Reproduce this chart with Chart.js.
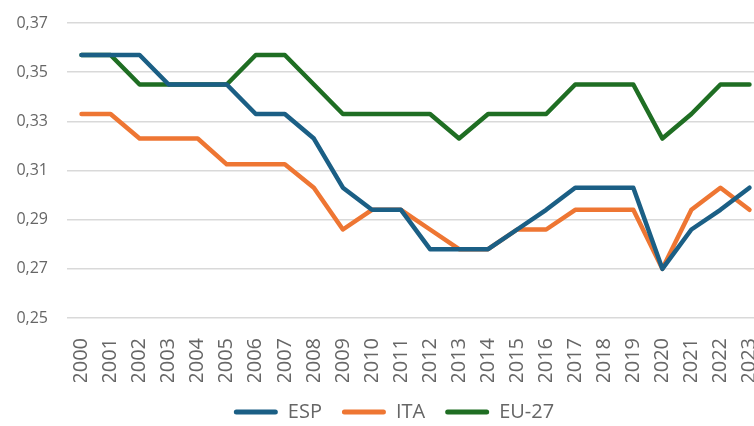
<!DOCTYPE html>
<html>
<head>
<meta charset="utf-8">
<script src="https://cdn.jsdelivr.net/npm/chart.js@4.4.0/dist/chart.umd.min.js"></script>
<style>
  html, body { margin: 0; padding: 0; background: #fff; overflow: hidden; }
  #wrap { width: 764px; height: 432px; }
</style>
</head>
<body>
<div id="wrap"><canvas id="myChart"></canvas></div>
<script>
var years = ['2000','2001','2002','2003','2004','2005','2006','2007','2008','2009','2010','2011',
  '2012','2013','2014','2015','2016','2017','2018','2019','2020','2021','2022','2023'];

var esp = [0.357,0.357,0.357,0.345,0.345,0.345,0.333,0.333,0.323,0.303,0.294,0.294,
  0.278,0.278,0.278,0.286,0.294,0.303,0.303,0.303,0.270,0.286,0.294,0.303];
var ita = [0.333,0.333,0.323,0.323,0.323,0.3125,0.3125,0.3125,0.303,0.286,0.294,0.294,
  0.286,0.278,0.278,0.286,0.286,0.294,0.294,0.294,0.270,0.294,0.303,0.294];
var eu27 = [0.357,0.357,0.345,0.345,0.345,0.345,0.357,0.357,0.345,0.333,0.333,0.333,
  0.333,0.323,0.333,0.333,0.333,0.345,0.345,0.345,0.323,0.333,0.345,0.345];

var seriesNames = ['ESP', 'ITA', 'EU-27'];
var colorHex = ['#1b5f85', '#ee7633', '#1f6e23'];

function makeSet(i, values) {
  return {
    label: seriesNames[i],
    data: values,
    borderColor: colorHex[i],
    backgroundColor: colorHex[i],
    borderWidth: 4.5,
    pointRadius: 0,
    tension: 0,
    borderJoinStyle: 'round',
    borderCapStyle: 'round'
  };
}

// legend sits a bit right of the canvas centre in the original
var legendShift = {
  id: 'legendShift',
  afterLayout: function (chart) {
    if (chart.legend) chart.legend.left += 24;
  }
};

Chart.defaults.font.family = '"Open Sans", sans-serif';
Chart.defaults.color = '#666';

let ctx = document.getElementById('myChart').getContext('2d');
let myChart = new Chart(ctx, {
  type: 'line',
  data: {
    labels: years,
    datasets: [makeSet(0, esp), makeSet(1, ita), makeSet(2, eu27)]
  },
  plugins: [legendShift],
  options: {
    responsive: true,
    maintainAspectRatio: false,
    animation: false,
    layout: { padding: { left: 0, right: 0, top: 23, bottom: 0 } },
    scales: {
      x: {
        offset: true,
        grid: { display: false },
        border: { display: false },
        // keep the plot area flush with the canvas edges
        afterFit: function (scale) {
          scale.height = 64;
          scale.paddingLeft = 0;
          scale.paddingRight = 0;
        },
        ticks: {
          maxRotation: 90,
          minRotation: 90,
          autoSkip: false,
          padding: 12,
          font: { size: 20 }
        }
      },
      y: {
        min: 0.25,
        max: 0.37,
        grid: { color: '#d9d9d9', lineWidth: 1.5, drawTicks: false },
        border: { display: false },
        afterFit: function (scale) {
          scale.width = 67;
          scale.paddingTop = 0;
          scale.paddingBottom = 0;
        },
        ticks: {
          stepSize: 0.02,
          padding: 19,
          font: { size: 16 },
          callback: function (v) { return v.toFixed(2).replace('.', ','); }
        }
      }
    },
    plugins: {
      legend: {
        position: 'bottom',
        labels: {
          boxWidth: 44,
          boxHeight: 5,
          useBorderRadius: true,
          borderRadius: 2.5,
          padding: 20,
          font: { size: 20 },
          generateLabels: function (chart) {
            var items = Chart.defaults.plugins.legend.labels.generateLabels(chart);
            items.forEach(function (it) { it.lineWidth = 0; });
            return items;
          }
        }
      },
      tooltip: { enabled: false }
    }
  }
});
</script>
</body>
</html>
